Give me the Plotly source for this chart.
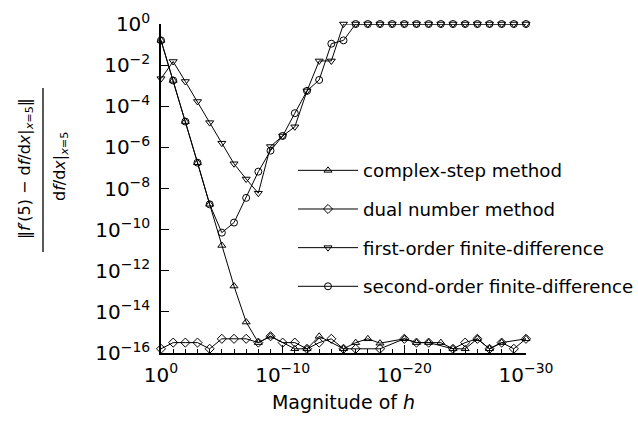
import plotly.graph_objects as go

# step sizes h (decades 10^0 ... 10^-30)
h = [1e0, 1e-1, 1e-2, 1e-3, 1e-4, 1e-5, 1e-6, 1e-7, 1e-8, 1e-9, 1e-10,
     1e-11, 1e-12, 1e-13, 1e-14, 1e-15, 1e-16, 1e-17, 1e-18, 1e-19, 1e-20,
     1e-21, 1e-22, 1e-23, 1e-24, 1e-25, 1e-26, 1e-27, 1e-28, 1e-29, 1e-30]

# relative errors (None = exact zero, not drawn on a log axis)
complex_step = [1.6e-1, 1.8e-3, 1.8e-5, 1.8e-7, 1.7e-9, 1.7e-11, 1.8e-13, 3.2e-15,
                3.2e-16, 6.5e-16, None, 1.6e-16, 1.6e-16, 6.5e-16, None, 1.6e-16,
                3.2e-16, 4.9e-16, 3.0e-16, None, 4.9e-16, 3.2e-16, 3.2e-16, 3.2e-16,
                1.6e-16, 1.6e-16, 4.9e-16, 1.6e-16, 3.2e-16, None, 4.9e-16]
dual_number = [1.6e-16, 3.2e-16, 3.2e-16, 3.2e-16, 1.6e-16, 4.9e-16, 4.9e-16, 4.9e-16,
               3.2e-16, 6.5e-16, 3.2e-16, 3.2e-16, 1.6e-16, 3.2e-16, 4.9e-16, 1.6e-16,
               1.6e-16, None, 1.6e-16, None, 4.9e-16, 3.2e-16, 3.2e-16, None,
               1.6e-16, 3.2e-16, 4.9e-16, 1.6e-16, 3.2e-16, 1.6e-16, 4.9e-16]
first_order = [2.2e-3, 1.5e-2, 1.6e-3, 1.7e-4, 1.6e-5, 1.6e-6, 1.6e-7, 2.9e-8,
               5.9e-9, 1.1e-6, 3.6e-6, 1.0e-5, 5.6e-4, 1.6e-2, 1.6e-2, 1.0,
               1.0, 1.0, 1.0, 1.0, 1.0, 1.0, 1.0, 1.0,
               1.0, 1.0, 1.0, 1.0, 1.0, 1.0, 1.0]
second_order = [1.6e-1, 1.8e-3, 1.8e-5, 1.8e-7, 1.7e-9, 7.1e-11, 2.2e-10, 3.5e-9,
                6.6e-8, 6.9e-7, 3.6e-6, 4.6e-5, 5.6e-4, 1.9e-3, 1.1e-1, 1.6e-1,
                1.0, 1.0, 1.0, 1.0, 1.0, 1.0, 1.0, 1.0,
                1.0, 1.0, 1.0, 1.0, 1.0, 1.0, 1.0]

series_names = ["complex-step method", "dual number method",
                "first-order finite-difference", "second-order finite-difference"]
series_values = [complex_step, dual_number, first_order, second_order]
series_symbols = ["triangle-up-open", "diamond-open", "triangle-down-open", "circle-open"]

x_major = [1e0, 1e-5, 1e-10, 1e-15, 1e-20, 1e-25, 1e-30]
x_major_text = ["10<sup>0</sup>", "", "10<sup>\u221210</sup>", "", "10<sup>\u221220</sup>", "",
                "10<sup>\u221230</sup>"]
y_ticks = [1e0, 1e-2, 1e-4, 1e-6, 1e-8, 1e-10, 1e-12, 1e-14, 1e-16]
y_tick_text = ["10<sup>0</sup>", "10<sup>\u22122</sup>", "10<sup>\u22124</sup>",
               "10<sup>\u22126</sup>", "10<sup>\u22128</sup>", "10<sup>\u221210</sup>",
               "10<sup>\u221212</sup>", "10<sup>\u221214</sup>", "10<sup>\u221216</sup>"]

FONT = "DejaVu Sans"

fig = go.Figure()
for i, (name, vals, sym) in enumerate(zip(series_names, series_values, series_symbols)):
    fig.add_trace(go.Scatter(
        x=h, y=vals, name=name, mode="lines+markers",
        connectgaps=True, cliponaxis=False,
        line=dict(color="black", width=1),
        marker=dict(symbol=sym, size=7, color="black", line=dict(width=1, color="black")),
        legendgroup=f"g{i}",
    ))

L, R, T, B = 161, 112, 24, 69
W, H = 638, 422
pw, ph = W - L - R, H - T - B

def px(xp):
    return (xp - L) / pw

def py(yp):
    return (H - B - yp) / ph

fig.update_layout(
    width=W, height=H,
    margin=dict(l=L, r=R, t=T, b=B, autoexpand=False),
    paper_bgcolor="white", plot_bgcolor="white",
    font=dict(family=FONT, size=19, color="black"),
    showlegend=True,
    legend=dict(x=px(293), y=py(152), xanchor="left", yanchor="top",
                bgcolor="rgba(0,0,0,0)", borderwidth=0,
                font=dict(size=18.2), tracegroupgap=12, itemwidth=60,
                traceorder="grouped"),
    xaxis=dict(type="log", range=[0, -30], showgrid=False, zeroline=False,
               showline=True, linecolor="black", linewidth=1.5, automargin=False,
               ticks="inside", ticklen=8, tickwidth=1.2, tickcolor="black",
               tickmode="array", tickvals=x_major, ticktext=x_major_text,
               tickfont=dict(size=20), ticklabelstandoff=3,
               minor=dict(tickmode="array", tickvals=h, ticks="inside",
                          ticklen=4, tickwidth=1, tickcolor="black", showgrid=False),
               title=dict(text="Magnitude of <i>h</i>", font=dict(size=19), standoff=10)),
    yaxis=dict(type="log", range=[-16, 0], showgrid=False, zeroline=False,
               showline=True, linecolor="black", linewidth=1.5, automargin=False,
               ticks="inside", ticklen=8, tickwidth=1.2, tickcolor="black",
               tickmode="array", tickvals=y_ticks, ticktext=y_tick_text,
               tickfont=dict(size=20), ticklabelstandoff=5),
)

# y-axis label as a stacked fraction
fig.add_annotation(xref="paper", yref="paper", x=px(25), y=py(169), textangle=-90,
                   xanchor="center", yanchor="middle",
                   showarrow=False, font=dict(size=16),
                   text="\u2016<i>f</i>\u2032(5) \u2212 d<i>f</i>/d<i>x</i>|<sub><i>x</i>=5</sub>\u2016")
fig.add_shape(type="line", xref="paper", yref="paper", layer="above",
              x0=px(43), x1=px(43), y0=py(88), y1=py(252),
              line=dict(color="black", width=1.3))
fig.add_annotation(xref="paper", yref="paper", x=px(60), y=py(167), textangle=-90,
                   xanchor="center", yanchor="middle",
                   showarrow=False, font=dict(size=16),
                   text="d<i>f</i>/d<i>x</i>|<sub><i>x</i>=5</sub>")

fig.write_html("out.html")
